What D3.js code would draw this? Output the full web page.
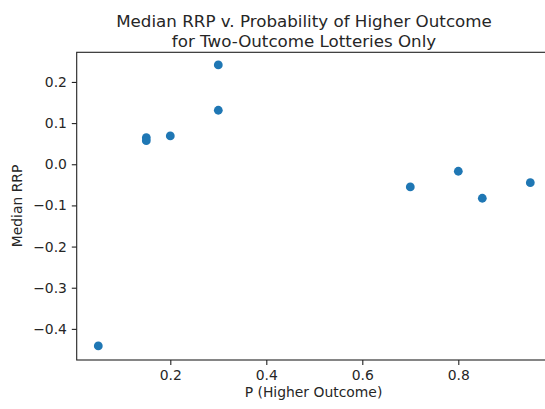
<!DOCTYPE html>
<html>
<head>
<meta charset="utf-8">
<script src="https://cdn.jsdelivr.net/npm/d3@7"></script>
<style>
html,body{margin:0;padding:0;background:#fff;}
text{font-family:"DejaVu Sans",sans-serif;fill:#262626;}
</style>
</head>
<body>
<svg id="chart" width="545" height="409"></svg>
<script>
const pHigher = [0.05, 0.30, 0.30, 0.15, 0.15, 0.20, 0.70, 0.80, 0.85, 0.95];
const medianRRP = [-0.4415, 0.2413, 0.1312, 0.0646, 0.0574, 0.0688, -0.0552, -0.0170, -0.0826, -0.0447];
const xTicks = [0.2, 0.4, 0.6, 0.8];
const yTicks = [-0.4, -0.3, -0.2, -0.1, 0.0, 0.1, 0.2];
const titleLines = ["Median RRP v. Probability of Higher Outcome", "for Two-Outcome Lotteries Only"];
const xLabel = "P (Higher Outcome)";
const yLabel = "Median RRP";

const svg = d3.select("#chart");
const L = 76.7, R = 551.9, T = 52.3, B = 360;
const x = d3.scaleLinear().domain([0.005, 0.995]).range([L, R]);
const y = d3.scaleLinear().domain([-0.4756, 0.272]).range([B, T]);
const fmt = v => d3.format(".1f")(v).replace("-", "\u2212");

svg.append("rect").attr("width", 545).attr("height", 409).attr("fill", "#fff");

// axes
const xAxis = svg.append("g").attr("transform", `translate(0,${B})`)
  .call(d3.axisBottom(x).tickValues(xTicks).tickFormat(fmt).tickSize(4.9).tickPadding(4.9));
const yAxis = svg.append("g").attr("transform", `translate(${L},0)`)
  .call(d3.axisLeft(y).tickValues(yTicks).tickFormat(fmt).tickSize(4.9).tickPadding(4.9));
[xAxis, yAxis].forEach(g => {
  g.select(".domain").remove();
  g.selectAll(".tick line").attr("stroke", "#222").attr("stroke-width", 1.1);
  g.selectAll(".tick text").attr("font-size", 13.9).attr("font-family", "DejaVu Sans").attr("fill", "#262626");
});

// spines
svg.append("rect").attr("x", L).attr("y", T).attr("width", R - L).attr("height", B - T)
  .attr("fill", "none").attr("stroke", "#222").attr("stroke-width", 1.1);

// points
svg.append("g").selectAll("circle").data(pHigher.map((p, i) => [p, medianRRP[i]]))
  .join("circle")
  .attr("cx", d => x(d[0])).attr("cy", d => y(d[1])).attr("r", 4.4)
  .attr("fill", "#1f77b4");

// title
svg.append("text").attr("text-anchor", "middle").attr("font-size", 16.7)
  .selectAll("tspan").data(titleLines).join("tspan")
  .attr("x", 304).attr("y", (d, i) => 26.5 + i * 20).text(d => d);

// axis labels
svg.append("text").attr("x", 313.5).attr("y", 397).attr("text-anchor", "middle")
  .attr("font-size", 13.9).text(xLabel);
svg.append("text").attr("transform", `translate(22,206) rotate(-90)`).attr("text-anchor", "middle")
  .attr("font-size", 13.9).text(yLabel);
</script>
</body>
</html>
